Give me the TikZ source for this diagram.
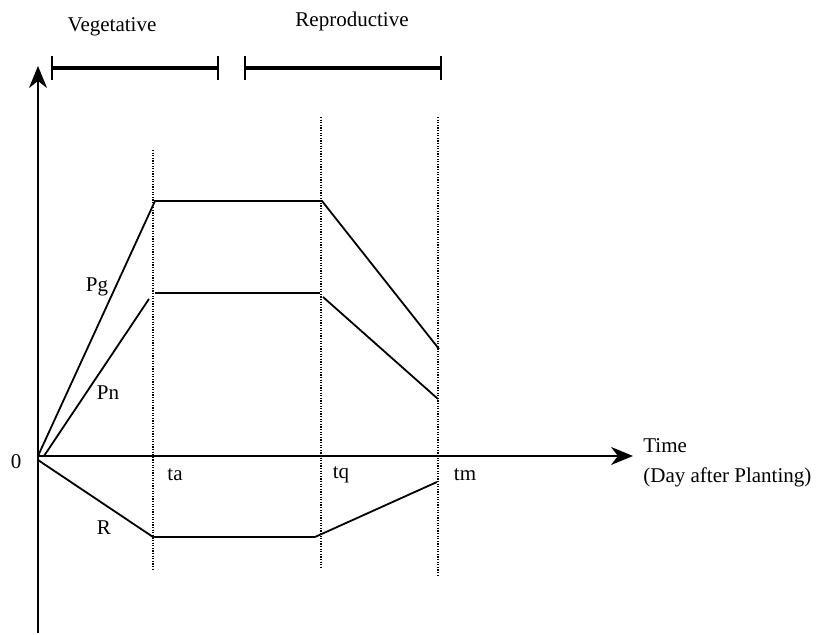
\documentclass[tikz,border=0pt]{standalone}
\usepackage{fontspec}
\setmainfont{Liberation Serif}
\usetikzlibrary{arrows.meta}
\begin{document}
\begin{tikzpicture}[x=0.5pt,y=0.5pt,font=\fontsize{10.5}{12.6}\selectfont]
\tikzset{axis/.style={line width=1pt,-{Stealth[length=11pt,width=9pt,inset=3.5pt]}},
  guide/.style={line width=0.6pt,dash pattern=on 0.6pt off 0.7pt},
  curve/.style={line width=0.9pt},
  phase/.style={line width=1.9pt,{Bar[width=12pt,line width=1.1pt]}-{Bar[width=12pt,line width=1.1pt]}},
  lbl/.style={inner sep=0pt}}
\useasboundingbox (-38,-179) rectangle (778,456);

% Draw axes
\coordinate (O) at (0,0);
\coordinate (ytop) at (0,390);
\coordinate (ybot) at (0,-177);
\coordinate (xend) at (595,0);
\draw[axis] (ybot) -- (ytop);
\draw[axis] (O) -- (xend);

% the phases
\coordinate (veg1) at (13,388);
\coordinate (veg2) at (181,388);
\coordinate (rep1) at (206,388);
\coordinate (rep2) at (404,388);
\draw[phase] (veg1) -- (veg2);
\draw[phase] (rep1) -- (rep2);
\node[lbl] (vegetative) at (74,429) {Vegetative};
\node[lbl] (reproductive) at (314,435) {Reproductive};

% the time marks
\draw[guide] (115,306) coordinate (ta top) -- (115,-113) coordinate (ta bot);
\draw[guide] (283,339) coordinate (tq top) -- (283,-113) coordinate (tq bot);
\draw[guide] (400,339) coordinate (tm top) -- (400,-121) coordinate (tm bot);

% Pg
\coordinate (pg1) at (117,255);
\coordinate (pg2) at (284,255);
\coordinate (pg3) at (401,107);
\draw[curve] (O) -- (pg1) -- (pg2) -- (pg3);

% Pn
\coordinate (pn0) at (6,0);
\coordinate (pn1) at (111,157);
\coordinate (pn2) at (117,163);
\coordinate (pn3) at (282,163);
\coordinate (pn4) at (285,159);
\coordinate (pn5) at (400,57);
\draw[curve] (pn0) -- (pn1);
\draw[curve] (pn2) -- (pn3);
\draw[curve] (pn4) -- (pn5);

% R
\coordinate (r0) at (0,-4);
\coordinate (r1) at (115,-81);
\coordinate (r2) at (277,-81);
\coordinate (r3) at (399,-26);
\draw[curve] (r0) -- (r1) -- (r2) -- (r3);

% the labels
\node[lbl] (zero) at (-22,-6) {0};
\node[lbl] (ta) at (137,-19) {ta};
\node[lbl] (tq) at (303,-19) {tq};
\node[lbl] (tm) at (427,-19) {tm};
\node[lbl] (pg) at (59,169) {Pg};
\node[lbl] (pn) at (70,63) {Pn};
\node[lbl] (r) at (66,-72) {R};
\node[lbl,anchor=west,align=left,font=\fontsize{10.5}{15}\selectfont] (time) at (605,-7) {Time\\(Day after Planting)};
\end{tikzpicture}
\end{document}
